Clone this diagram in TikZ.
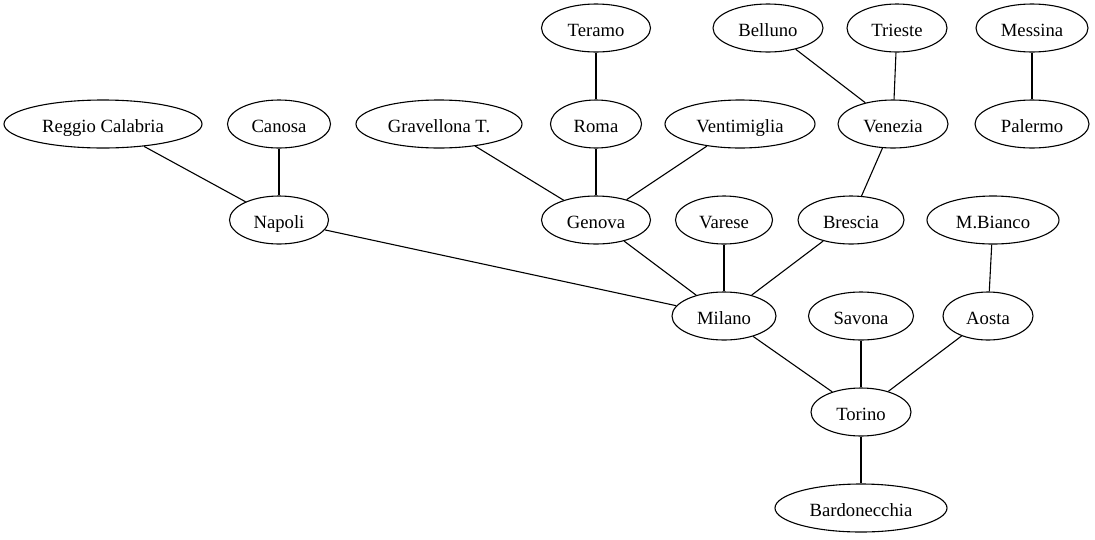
\documentclass[tikz,border=0pt]{standalone}
\usepackage{fontspec}
\setmainfont{Liberation Serif}
\usetikzlibrary{shapes.geometric}
\begin{document}
\begin{tikzpicture}[x=1pt,y=-1pt,
  city/.style={ellipse,draw,line width=1.1pt,inner sep=0pt,minimum height=48pt,
    text height=18pt,text depth=1pt,font=\fontsize{18.67}{20}\selectfont},
  link/.style={line width=1.1pt}]
\useasboundingbox (0,0) rectangle (1095,539);
\node[city,minimum width=109pt] (teramo) at (596,28) {Teramo};
\node[city,minimum width=110pt] (belluno) at (768,28) {Belluno};
\node[city,minimum width=100pt] (trieste) at (897,28) {Trieste};
\node[city,minimum width=112pt] (messina) at (1032,28) {Messina};
\node[city,minimum width=198pt] (reggio) at (103,124) {Reggio Calabria};
\node[city,minimum width=103pt] (canosa) at (279,124) {Canosa};
\node[city,minimum width=166pt] (gravellona) at (439,124) {Gravellona T.};
\node[city,minimum width=91pt] (roma) at (596,124) {Roma};
\node[city,minimum width=150pt] (ventimiglia) at (740,124) {Ventimiglia};
\node[city,minimum width=110pt] (venezia) at (893,124) {Venezia};
\node[city,minimum width=114pt] (palermo) at (1032,124) {Palermo};
\node[city,minimum width=99pt] (napoli) at (279,220) {Napoli};
\node[city,minimum width=109pt] (genova) at (596,220) {Genova};
\node[city,minimum width=97pt] (varese) at (724,220) {Varese};
\node[city,minimum width=106pt] (brescia) at (851,220) {Brescia};
\node[city,minimum width=132pt] (mbianco) at (993,220) {M.Bianco};
\node[city,minimum width=104pt] (milano) at (724,316) {Milano};
\node[city,minimum width=105pt] (savona) at (861,316) {Savona};
\node[city,minimum width=90pt] (aosta) at (988,316) {Aosta};
\node[city,minimum width=100pt] (torino) at (861,412) {Torino};
\node[city,minimum width=172pt] (bardonecchia) at (861,508) {Bardonecchia};
\draw[link] (teramo) -- (roma);
\draw[link] (roma) -- (genova);
\draw[link] (gravellona) -- (genova);
\draw[link] (ventimiglia) -- (genova);
\draw[link] (belluno) -- (venezia);
\draw[link] (trieste) -- (venezia);
\draw[link] (venezia) -- (brescia);
\draw[link] (messina) -- (palermo);
\draw[link] (reggio) -- (napoli);
\draw[link] (canosa) -- (napoli);
\draw[link] (napoli) -- (milano);
\draw[link] (genova) -- (milano);
\draw[link] (varese) -- (milano);
\draw[link] (brescia) -- (milano);
\draw[link] (mbianco) -- (aosta);
\draw[link] (milano) -- (torino);
\draw[link] (savona) -- (torino);
\draw[link] (aosta) -- (torino);
\draw[link] (torino) -- (bardonecchia);
\end{tikzpicture}
\end{document}
